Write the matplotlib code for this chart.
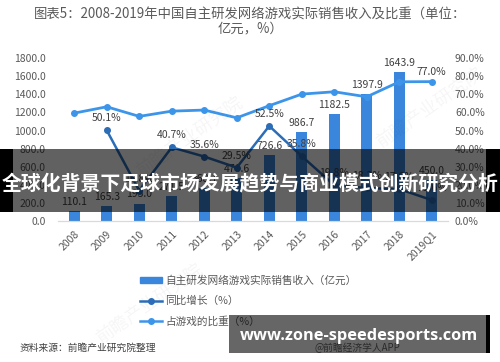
import matplotlib
matplotlib.use('Agg')
from matplotlib import pyplot as plt
from matplotlib.patches import Rectangle
from matplotlib.lines import Line2D
import numpy as np

plt.rcParams['font.family'] = ['Noto Sans CJK SC', 'DejaVu Sans']

years = ['2008', '2009', '2010', '2011', '2012', '2013', '2014', '2015',
         '2016', '2017', '2018', '2019Q1']
revenue = [110.1, 165.3, 193.0, 271.5, 368.1, 476.6, 726.6, 986.7,
           1182.5, 1397.9, 1643.9, 450.0]
growth = [np.nan, 50.1, 16.8, 40.7, 35.6, 29.5, 52.5, 35.8, 19.8, 18.2, 17.6, 11.6]
share = [59.6, 63.1, 57.8, 60.7, 61.3, 57.0, 63.7, 70.1, 71.4, 68.6, 76.9, 77.0]

bar_c = '#3a86dc'
growth_c = '#2c6db8'
share_c = '#3d95ea'
txt_c = '#595959'

fig = plt.figure(figsize=(5, 3.62), dpi=100)
ax = fig.add_axes([0.116, 0.3895, 0.78, 0.450])
ax2 = ax.twinx()

x = np.arange(len(years))
ax.bar(x, revenue, width=0.34, color=bar_c, zorder=2)
for xi, v in zip(x, revenue):
    ax.annotate('%.1f' % v, (xi, v), xytext=(0, 3), textcoords='offset points',
                ha='center', va='bottom', fontsize=7.5, color='#404040')

ax2.plot(x, share, color=share_c, lw=2, marker='o', ms=4, zorder=3)
ax2.plot(x, growth, color=growth_c, lw=1.8, marker='o', ms=4, zorder=3)
for xi, v in zip(x, growth):
    if not np.isnan(v):
        ax2.annotate('%.1f%%' % v, (xi, v), xytext=(0, 5), textcoords='offset points',
                     ha='center', va='bottom', fontsize=7.5, color='#404040')
ax2.annotate('%.1f%%' % share[-1], (x[-1], share[-1]), xytext=(0, 3),
             textcoords='offset points', ha='center', va='bottom',
             fontsize=7.5, color='#404040')

ax.set_xlim(-0.5, 11.5)
ax.set_ylim(0, 1800)
ax2.set_ylim(0, 90)
ax.set_yticks(np.arange(0, 1801, 200))
ax.set_yticklabels(['%.1f' % v for v in np.arange(0, 1801, 200)])
ax2.set_yticks(np.arange(0, 91, 10))
ax2.set_yticklabels(['%.1f%%' % v for v in np.arange(0, 91, 10)])
ax.set_xticks(x)
ax.set_xticklabels(years, rotation=45, ha='right', va='top', rotation_mode='anchor')

for a in (ax, ax2):
    for s in ('top', 'left', 'right'):
        a.spines[s].set_visible(False)
    a.spines['bottom'].set_color('#d9d9d9')
    a.tick_params(length=0, labelsize=7.5, colors=txt_c)
ax.tick_params(axis='y', pad=9)
ax.tick_params(axis='x', pad=6)
ax2.tick_params(axis='y', pad=5)

fig.text(0.5, 0.94, '图表5：2008-2019年中国自主研发网络游戏实际销售收入及比重（单位：\n亿元，%）',
         ha='center', va='center', fontsize=9.6, color=txt_c, linespacing=1.0)

handles = [Rectangle((0, 0), 1, 1, color=bar_c),
           Line2D([], [], color=growth_c, lw=1.8, marker='o', ms=4),
           Line2D([], [], color=share_c, lw=1.8, marker='o', ms=4)]
labels = ['自主研发网络游戏实际销售收入（亿元）', '同比增长（%）', '占游戏的比重（%）']
fig.legend(handles, labels, loc='upper left', bbox_to_anchor=(0.27, 0.255),
           frameon=False, fontsize=7.7, labelcolor=txt_c, handlelength=2.0,
           handleheight=0.5, labelspacing=0.95, handletextpad=0.3, borderpad=0)

fig.text(0.04, 0.04, '资料来源：前瞻产业研究院整理', fontsize=7, color='#404040',
         ha='left', va='center', style='italic')

# faint watermark
for wx, wy in [(0.38, 0.62), (0.86, 0.70), (0.3, 0.16)]:
    fig.text(wx, wy, '前瞻产业研究院', fontsize=13, color='#000000', alpha=0.04,
             rotation=35, ha='center', va='center')

# overlay banner
fig.add_artist(Rectangle((0, 0.4144), 1, 0.174, transform=fig.transFigure,
                         color='black', alpha=0.62, zorder=10, lw=0))
fig.add_artist(Rectangle((0, 0.4144), 0.026, 0.174, transform=fig.transFigure,
                         color='black', zorder=10, lw=0))
fig.add_artist(Rectangle((0.972, 0.4144), 0.028, 0.174, transform=fig.transFigure,
                         color='black', zorder=10, lw=0))
fig.text(0.5, 0.494, '全球化背景下足球市场发展趋势与商业模式创新研究分析',
         ha='center', va='center', fontsize=14.3, color='white',
         fontweight='bold', zorder=11)

# bottom-right site box
fig.add_artist(Rectangle((0.458, 0.025), 0.522, 0.105, transform=fig.transFigure,
                         color='black', alpha=0.6, zorder=10, lw=0))
fig.add_artist(Rectangle((0.972, 0.025), 0.008, 0.105, transform=fig.transFigure,
                         color='black', zorder=10, lw=0))
fig.text(0.714, 0.04, '@前瞻经济学人APP', ha='center', va='center', fontsize=7,
         color='#2a2a2a', zorder=11)
fig.text(0.718, 0.072, 'www.zone-speedesports.com', ha='center', va='center',
         fontsize=11.8, color='white', fontweight='bold', zorder=12,
         family=['Open Sans', 'DejaVu Sans'])

fig.savefig('out.png', dpi=100)
